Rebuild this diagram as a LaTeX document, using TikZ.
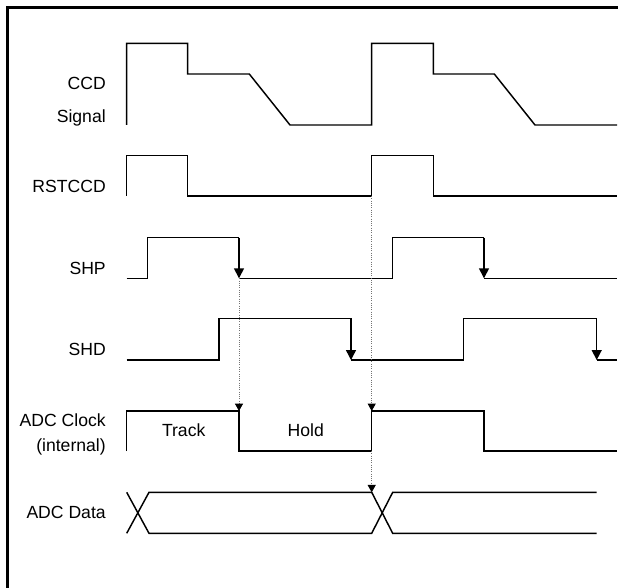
\documentclass[tikz,border=0pt]{standalone}
\usepackage{fontspec}
\setmainfont{Liberation Sans}
\usepackage{tikz}
\usetikzlibrary{arrows.meta}
\tikzstyle{wave} = [line width=1.1pt, line join=miter]
\tikzstyle{edge} = [line width=1.1pt, -{Triangle[length=7.5pt,width=7.5pt]}]
\tikzstyle{cause} = [densely dotted, black!55, line width=0.7pt, -{Triangle[length=5.5pt,width=6pt,color=black]}]
\tikzstyle{lbl} = [anchor=base east, inner sep=0pt, font=\fontsize{13.2}{16}\selectfont]
\tikzstyle{phase} = [anchor=base, inner sep=0pt, font=\fontsize{13.2}{16}\selectfont]

\begin{document}
\begin{tikzpicture}[x=0.75pt, y=-0.75pt]
  \useasboundingbox (0,0) rectangle (618,588);

  % Frame
  \draw[line width=2.2pt] (7.5,588) -- (7.5,7.5) -- (618,7.5);

  % Labels
  \node[lbl] (ccd) at (106,89.3) {CCD};
  \node[lbl] (signal) at (106,122.5) {Signal};
  \node[lbl] (rstccd) at (106,192.7) {RSTCCD};
  \node[lbl] (shp) at (106,274) {SHP};
  \node[lbl] (shd) at (106,355.3) {SHD};
  \node[lbl] (adcclk) at (106,426) {ADC Clock};
  \node[lbl] (internal) at (106,451.5) {(internal)};
  \node[lbl] (adcdata) at (106,518.3) {ADC Data};
  \node[phase] (track) at (183.7,436) {Track};
  \node[phase] (hold) at (305.7,436) {Hold};

  % Waveforms
  \draw[wave] (126.7,125) -- (126.7,43.3) -- (187.7,43.3) -- (187.7,74) -- (249.3,74) -- (290,125)
    -- (371.7,125) -- (371.7,43.3) -- (433.3,43.3) -- (433.3,74) -- (494.3,74) -- (535,125) -- (617,125);
  \draw[wave] (126.7,196) -- (126.7,155.7) -- (187.7,155.7) -- (187.7,196) -- (371.7,196)
    -- (371.7,155.7) -- (433.3,155.7) -- (433.3,196) -- (617,196);
  \draw[wave] (126.7,278.3) -- (147.3,278.3) -- (147.3,237.7) -- (239,237.7);
  \draw[edge] (239,237.7) -- (239,278.3);
  \draw[wave] (239,278.3) -- (392.7,278.3) -- (392.7,237.7) -- (484,237.7);
  \draw[edge] (484,237.7) -- (484,278.3);
  \draw[wave] (484,278.3) -- (617,278.3);
  \draw[wave] (126.7,360) -- (219,360) -- (219,318.3) -- (351,318.3);
  \draw[edge] (351,318.3) -- (351,360);
  \draw[wave] (351,360) -- (463.3,360) -- (463.3,318.3) -- (596.7,318.3);
  \draw[edge] (596.7,318.3) -- (596.7,360);
  \draw[wave] (596.7,360) -- (617,360);
  \draw[wave] (126.7,451) -- (126.7,411) -- (239,411) -- (239,451) -- (371.7,451)
    -- (371.7,411) -- (484,411) -- (484,451) -- (617,451);
  \draw[wave] (126.7,492.3) -- (149,533.3) -- (371.7,533.3) -- (392.7,492.3) -- (596.7,492.3);
  \draw[wave] (126.7,533.3) -- (149,492.3) -- (371.7,492.3) -- (392.7,533.3) -- (596.7,533.3);

  % Edge points
  \coordinate (shpfall) at (239,278.3);
  \coordinate (clkfall) at (239,411);
  \coordinate (rstrise) at (371.7,196);
  \coordinate (clkrise) at (371.7,411);
  \coordinate (clklow) at (371.7,451);
  \coordinate (datacross) at (371.7,492.3);

  % Causality
  \draw[cause] (shpfall) -- (clkfall);
  \draw[cause] (rstrise) -- (clkrise);
  \draw[cause] (clklow) -- (datacross);
\end{tikzpicture}
\end{document}
